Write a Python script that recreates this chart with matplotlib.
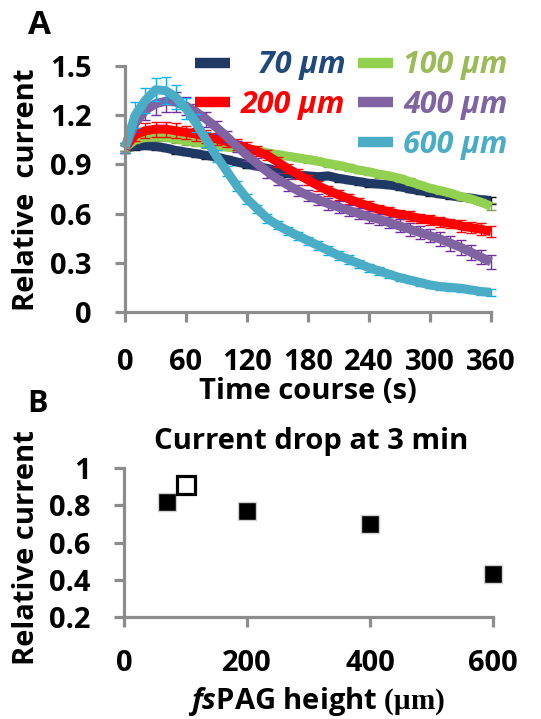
import matplotlib
matplotlib.use("Agg")
import matplotlib.pyplot as plt
from matplotlib.lines import Line2D

plt.rcParams['font.family'] = ['Open Sans', 'DejaVu Sans']
plt.rcParams['font.weight'] = 'bold'
plt.rcParams['mathtext.fontset'] = 'custom'
plt.rcParams['mathtext.bfit'] = 'Open Sans:italic:bold'
plt.rcParams['mathtext.bf'] = 'Liberation Serif:bold'

tick_size = 21
label_size = 21
legend_size = 22
axis_color = "#8c8c8c"

# ---- panel A data: relative current vs time, every 10 s ----
time_s = [0, 10, 20, 30, 40, 50, 60, 70, 80, 90, 100, 110, 120, 130, 140, 150, 160, 170, 180,
          190, 200, 210, 220, 230, 240, 250, 260, 270, 280, 290, 300, 310, 320, 330, 340, 350, 360]

h70 = [1.00, 1.01, 1.015, 1.01, 1.00, 0.985, 0.975, 0.965, 0.955, 0.945, 0.93, 0.915, 0.90,
       0.89, 0.875, 0.86, 0.845, 0.835, 0.83, 0.825, 0.83, 0.815, 0.805, 0.795, 0.785, 0.78,
       0.775, 0.765, 0.75, 0.74, 0.73, 0.72, 0.71, 0.70, 0.695, 0.685, 0.68]
h100 = [1.00, 1.05, 1.065, 1.07, 1.065, 1.055, 1.045, 1.035, 1.025, 1.015, 1.005, 1.00, 0.995,
        0.985, 0.97, 0.96, 0.95, 0.94, 0.93, 0.92, 0.905, 0.895, 0.88, 0.865, 0.855, 0.84,
        0.83, 0.815, 0.795, 0.775, 0.755, 0.74, 0.725, 0.705, 0.69, 0.67, 0.645]
h200 = [1.00, 1.08, 1.105, 1.115, 1.115, 1.105, 1.095, 1.085, 1.07, 1.055, 1.04, 1.02, 1.00,
        0.98, 0.955, 0.915, 0.875, 0.84, 0.805, 0.77, 0.74, 0.715, 0.69, 0.665, 0.645, 0.625,
        0.61, 0.595, 0.585, 0.57, 0.56, 0.55, 0.54, 0.525, 0.515, 0.505, 0.49]
h400 = [1.00, 1.15, 1.23, 1.27, 1.285, 1.28, 1.255, 1.22, 1.175, 1.125, 1.07, 1.01, 0.955,
        0.905, 0.855, 0.81, 0.775, 0.74, 0.71, 0.685, 0.66, 0.64, 0.62, 0.60, 0.58, 0.565,
        0.545, 0.525, 0.505, 0.485, 0.465, 0.445, 0.42, 0.395, 0.365, 0.335, 0.305]
h600 = [1.00, 1.20, 1.29, 1.355, 1.35, 1.31, 1.24, 1.15, 1.05, 0.95, 0.86, 0.77, 0.69,
        0.63, 0.57, 0.53, 0.495, 0.465, 0.435, 0.405, 0.375, 0.345, 0.32, 0.295, 0.27, 0.25,
        0.23, 0.21, 0.195, 0.18, 0.165, 0.155, 0.15, 0.145, 0.135, 0.125, 0.12]

err70 = [0.02, 0.02, 0.02, 0.02, 0.02, 0.02, 0.02, 0.02, 0.02, 0.02, 0.02, 0.02, 0.02,
         0.02, 0.02, 0.02, 0.02, 0.02, 0.02, 0.02, 0.02, 0.02, 0.02, 0.02, 0.02, 0.02,
         0.02, 0.02, 0.02, 0.02, 0.02, 0.02, 0.02, 0.02, 0.02, 0.02, 0.02]
err100 = [0.02, 0.02, 0.025, 0.025, 0.025, 0.025, 0.025, 0.025, 0.025, 0.025, 0.02, 0.02, 0.02,
          0.02, 0.02, 0.02, 0.02, 0.02, 0.02, 0.02, 0.02, 0.02, 0.02, 0.02, 0.02, 0.02,
          0.02, 0.02, 0.02, 0.02, 0.02, 0.02, 0.02, 0.02, 0.02, 0.02, 0.02]
err200 = [0.03, 0.04, 0.045, 0.045, 0.045, 0.045, 0.04, 0.04, 0.04, 0.035, 0.035, 0.035, 0.035,
          0.03, 0.03, 0.03, 0.03, 0.03, 0.03, 0.03, 0.03, 0.03, 0.03, 0.03, 0.03, 0.03,
          0.03, 0.03, 0.03, 0.03, 0.03, 0.03, 0.03, 0.035, 0.035, 0.035, 0.035]
err400 = [0.03, 0.05, 0.06, 0.07, 0.065, 0.06, 0.055, 0.05, 0.045, 0.04, 0.035, 0.035, 0.035,
          0.035, 0.035, 0.035, 0.035, 0.035, 0.035, 0.035, 0.035, 0.035, 0.035, 0.035, 0.035, 0.035,
          0.035, 0.04, 0.04, 0.04, 0.04, 0.045, 0.045, 0.045, 0.045, 0.045, 0.045]
err600 = [0.03, 0.08, 0.075, 0.07, 0.08, 0.075, 0.065, 0.055, 0.045, 0.035, 0.03, 0.03, 0.03,
          0.025, 0.025, 0.025, 0.025, 0.025, 0.025, 0.025, 0.025, 0.025, 0.025, 0.025, 0.025, 0.025,
          0.02, 0.02, 0.02, 0.02, 0.02, 0.02, 0.02, 0.02, 0.02, 0.02, 0.02]

series_labels = ["\u200770 \u03bcm", "100 \u03bcm", "200 \u03bcm", "400 \u03bcm", "600 \u03bcm"]
series_values = [h70, h100, h200, h400, h600]
series_errors = [err70, err100, err200, err400, err600]
line_colors = ["#1f3864", "#92d050", "#ff0000", "#8064a2", "#4bacc6"]
text_colors = ["#1f497d", "#9bbb59", "#ff0000", "#8064a2", "#4bacc6"]
bar_colors = ["#000000", "#7f9f50", "#ff0000", "#7030a0", "#00b0f0"]

a_yticks = [0, 0.3, 0.6, 0.9, 1.2, 1.5]
a_yticklabels = ["0", "0.3", "0.6", "0.9", "1.2", "1.5"]
a_xticks = [0, 60, 120, 180, 240, 300, 360]

# ---- panel B data: current drop at 3 min ----
height_filled = [70, 200, 400, 600]
drop_filled = [0.815, 0.77, 0.70, 0.43]
height_open = [100]
drop_open = [0.91]
b_yticks = [0.2, 0.4, 0.6, 0.8, 1.0]
b_yticklabels = ["0.2", "0.4", "0.6", "0.8", "1"]
b_xticks = [0, 200, 400, 600]

W, H = 541, 719
fig = plt.figure(figsize=(W / 100, H / 100), dpi=100)


def px_axes(left, top, right, bottom):
    return fig.add_axes([left / W, 1 - bottom / H, (right - left) / W, (bottom - top) / H])


def style_axes(ax, xpad, ypad):
    for side in ["top", "right"]:
        ax.spines[side].set_visible(False)
    for side in ["left", "bottom"]:
        ax.spines[side].set_color(axis_color)
        ax.spines[side].set_linewidth(2.3)
    ax.tick_params(direction="out", length=7, width=2.3, color=axis_color,
                   labelsize=tick_size, labelcolor="black")
    ax.tick_params(axis="x", pad=xpad)
    ax.tick_params(axis="y", pad=ypad)


# Panel A
ax = px_axes(125, 66, 491, 312)
handles = []
for vals, errs, lc, bc, lab in zip(series_values, series_errors, line_colors, bar_colors, series_labels):
    ax.errorbar(time_s, vals, yerr=errs, fmt="none", ecolor=bc, elinewidth=1.0,
                capsize=3.5, capthick=1.0, clip_on=False)
    ax.plot(time_s, vals, color=lc, linewidth=6.5, solid_capstyle="butt", clip_on=False)
    handles.append(Line2D([], [], color=lc, linewidth=7.5, solid_capstyle="butt", label=lab))
ax.set_xlim(0, 360)
ax.set_ylim(0, 1.5)
ax.set_xticks(a_xticks)
ax.set_yticks(a_yticks)
ax.set_yticklabels(a_yticklabels)
style_axes(ax, 19, 17)

blank = Line2D([], [], color="none", label=" ")
leg_handles = [handles[0], handles[2], blank, handles[1], handles[3], handles[4]]
leg_colors = [text_colors[0], text_colors[2], "white", text_colors[1], text_colors[3], text_colors[4]]
leg = fig.legend(handles=leg_handles, ncol=2, loc="upper right",
                 bbox_to_anchor=(523 / W, 1 - 35 / H), frameon=False,
                 prop={"size": legend_size, "style": "italic", "weight": "bold"},
                 handlelength=1.14, handletextpad=0.35, columnspacing=0.4,
                 labelspacing=0.32, borderpad=0, labelcolor=leg_colors)

fig.text(308 / W, 1 - 391 / H, "Time course (s)", ha="center", va="center", fontsize=label_size)
fig.text(27 / W, 1 - 190 / H, "Relative  current", ha="center", va="center",
         rotation=90, fontsize=label_size)
fig.text(40 / W, 1 - 26 / H, "A", ha="center", va="center", fontsize=24)

# Panel B
bx = px_axes(124, 468, 493, 617)
bx.plot(height_filled, drop_filled, linestyle="none", marker="s", markersize=13.5,
        markerfacecolor="black", markeredgecolor="#d0d0d0", markeredgewidth=1.0, clip_on=False)
bx.plot(height_open, drop_open, linestyle="none", marker="s", markersize=12.5,
        markerfacecolor="white", markeredgecolor="black", markeredgewidth=2.3, clip_on=False)
bx.set_xlim(0, 600)
bx.set_ylim(0.2, 1.0)
bx.set_xticks(b_xticks)
bx.set_yticks(b_yticks)
bx.set_yticklabels(b_yticklabels)
style_axes(bx, 16, 17)

fig.text(311 / W, 1 - 442 / H, "Current drop at 3 min", ha="center", va="center", fontsize=label_size)
fig.text(27 / W, 1 - 548 / H, "Relative current", ha="center", va="center",
         rotation=90, fontsize=label_size)
fig.text(316 / W, 1 - 702 / H, "$\\mathbfit{fs}$PAG height $\\mathbf{(\u03bcm)}$",
         ha="center", va="center", fontsize=label_size)
fig.text(38 / W, 1 - 404 / H, "B", ha="center", va="center", fontsize=22)

fig.savefig("out.png", dpi=100)
